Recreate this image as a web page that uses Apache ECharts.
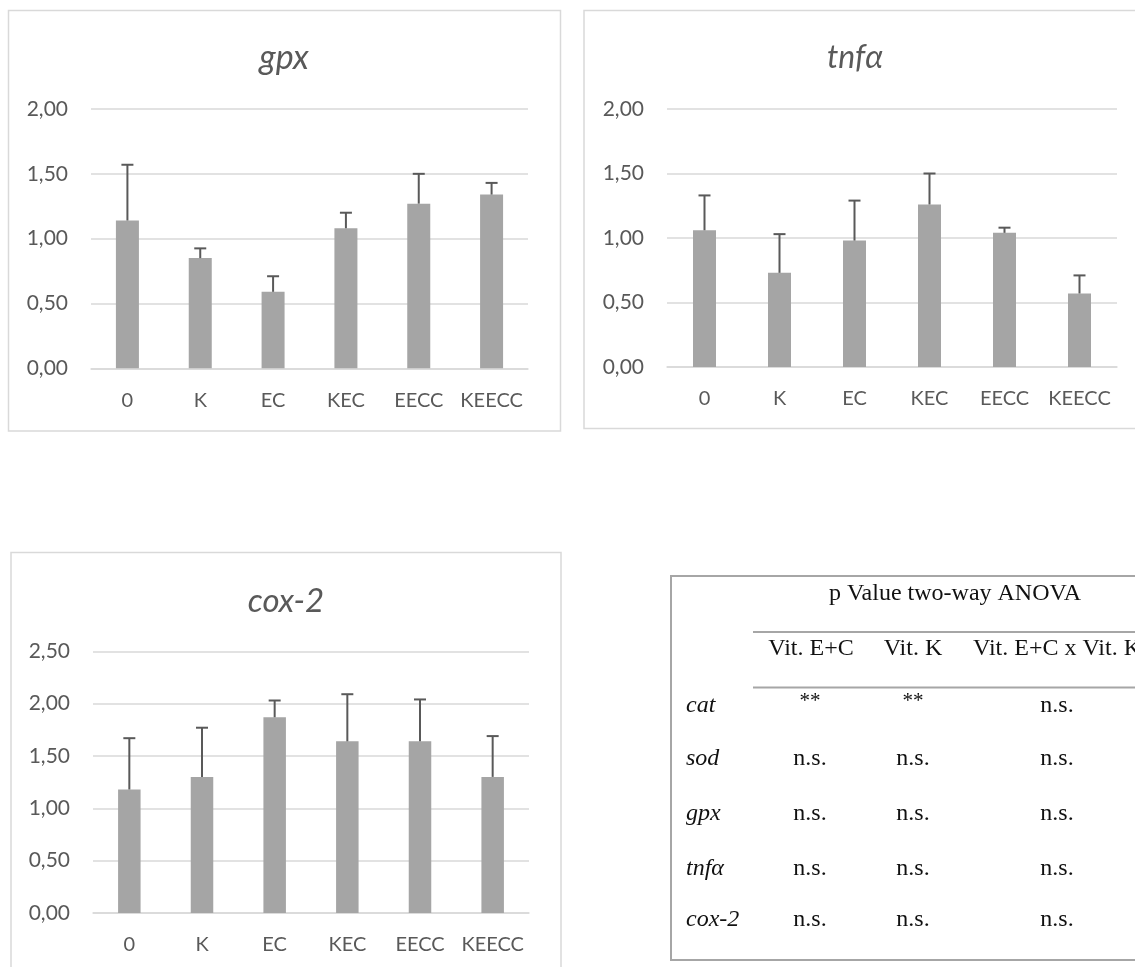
<!DOCTYPE html>
<html>
<head>
<meta charset="utf-8">
<script src="https://cdn.jsdelivr.net/npm/echarts@6/dist/echarts.min.js"></script>
<style>
html,body{margin:0;padding:0;background:#fff;}
#c{width:1135px;height:967px;}
</style>
</head>
<body>
<div id="c"></div>
<script>
// ---- data ----
const categories = ['0', 'K', 'EC', 'KEC', 'EECC', 'KEECC'];
const gpxMean = [1.14, 0.85, 0.59, 1.08, 1.27, 1.34];
const gpxErr  = [0.43, 0.075, 0.12, 0.12, 0.23, 0.09];
const tnfMean = [1.06, 0.73, 0.98, 1.26, 1.04, 0.57];
const tnfErr  = [0.27, 0.30, 0.31, 0.24, 0.04, 0.14];
const coxMean = [1.18, 1.30, 1.87, 1.64, 1.64, 1.30];
const coxErr  = [0.49, 0.47, 0.16, 0.45, 0.40, 0.39];
const chartTitles = ['gpx', 'tnfα', 'cox-2'];
const yMax = [2.0, 2.0, 2.5];
const yInterval = 0.5;

// ANOVA table
const tableTitle = 'p Value two-way ANOVA';
const tableHeaders = ['Vit. E+C', 'Vit. K', 'Vit. E+C x Vit. K'];
const tableRows = ['cat', 'sod', 'gpx', 'tnfα', 'cox-2'];
const tableColEC = ['**', 'n.s.', 'n.s.', 'n.s.', 'n.s.'];
const tableColK  = ['**', 'n.s.', 'n.s.', 'n.s.', 'n.s.'];
const tableColX  = ['n.s.', 'n.s.', 'n.s.', 'n.s.', 'n.s.'];

// ---- layout / style ----
const SANS = 'Lato, "Noto Sans", sans-serif';
const SERIF = '"Liberation Serif", "DejaVu Serif", serif';
const LABEL = '#595959';
const GRID = '#D9D9D9';

const grids = [
  {left: 91, top: 109, width: 437, height: 259.3},
  {left: 667, top: 109, width: 450, height: 258},
  {left: 93, top: 651.3, width: 436, height: 261.7}
];
const boxes = [
  {x: 8.5, y: 10.5, w: 552, h: 420.5},
  {x: 584, y: 10.5, w: 600, h: 418},
  {x: 11, y: 552.5, w: 550, h: 500}
];
const titlePos = [[284, 58], [855, 58], [286, 601]];
const titleSize = [34, 32, 33];
const barW = [23, 23, 22.5];
const means = [gpxMean, tnfMean, coxMean];
const errs = [gpxErr, tnfErr, coxErr];

const fmt = v => v.toFixed(2).replace('.', ',');

const xAxis = [], yAxis = [], series = [], graphic = [];
for (let i = 0; i < 3; i++) {
  xAxis.push({
    type: 'category', gridIndex: i, data: categories,
    axisLine: {show: true, lineStyle: {color: GRID, width: 1.5}},
    axisTick: {show: false},
    axisLabel: {color: LABEL, fontFamily: SANS, fontSize: 20, margin: 22, interval: 0}
  });
  yAxis.push({
    type: 'value', gridIndex: i, min: 0, max: yMax[i], interval: yInterval,
    axisLine: {show: false}, axisTick: {show: false},
    axisLabel: {color: LABEL, fontFamily: SANS, fontSize: 21, margin: 23, formatter: fmt},
    splitLine: {show: true, lineStyle: {color: GRID, width: 1.5}}
  });
  series.push({
    type: 'bar', xAxisIndex: i, yAxisIndex: i, data: means[i],
    barWidth: barW[i], itemStyle: {color: '#A5A5A5'}, z: 2, silent: true
  });
  const ebData = means[i].map((m, k) => [k, m, m + errs[i][k]]);
  series.push({
    type: 'custom', xAxisIndex: i, yAxisIndex: i, data: ebData, z: 3, silent: true,
    encode: {x: 0, y: [1, 2]},
    renderItem: (params, api) => {
      const b = api.coord([api.value(0), api.value(1)]);
      const t = api.coord([api.value(0), api.value(2)]);
      const st = {stroke: '#595959', lineWidth: 2};
      return {type: 'group', children: [
        {type: 'line', shape: {x1: b[0], y1: b[1], x2: t[0], y2: t[1]}, style: st},
        {type: 'line', shape: {x1: t[0] - 6, y1: t[1], x2: t[0] + 6, y2: t[1]}, style: st}
      ]};
    }
  });
  graphic.push({
    type: 'rect', shape: {x: boxes[i].x, y: boxes[i].y, width: boxes[i].w, height: boxes[i].h},
    style: {fill: null, stroke: GRID, lineWidth: 1.5}, z: 0, silent: true
  });
  graphic.push({
    type: 'text', x: titlePos[i][0], y: titlePos[i][1],
    style: {text: chartTitles[i], fill: LABEL, font: 'italic ' + titleSize[i] + 'px ' + SANS,
            textAlign: 'center', textVerticalAlign: 'middle'}
  });
}

// ---- table ----
const TB = '#A6A6A6';
const TF = '24px ' + SERIF;
graphic.push({type: 'rect', shape: {x: 671, y: 576, width: 600, height: 384},
  style: {fill: null, stroke: TB, lineWidth: 2}, silent: true});
graphic.push({type: 'text', x: 955, y: 594,
  style: {text: tableTitle, fill: '#111', font: TF, textAlign: 'center', textVerticalAlign: 'middle'}});
graphic.push({type: 'line', shape: {x1: 753, y1: 632, x2: 1140, y2: 632}, style: {stroke: TB, lineWidth: 2}});
graphic.push({type: 'line', shape: {x1: 753, y1: 687.5, x2: 1140, y2: 687.5}, style: {stroke: TB, lineWidth: 2}});
graphic.push({type: 'text', x: 811, y: 649, style: {text: tableHeaders[0], fill: '#111', font: TF, textAlign: 'center', textVerticalAlign: 'middle'}});
graphic.push({type: 'text', x: 913, y: 649, style: {text: tableHeaders[1], fill: '#111', font: TF, textAlign: 'center', textVerticalAlign: 'middle'}});
graphic.push({type: 'text', x: 973, y: 649, style: {text: tableHeaders[2], fill: '#111', font: TF, textAlign: 'left', textVerticalAlign: 'middle'}});
const rowY = [706, 759, 814, 869, 920];
for (let r = 0; r < tableRows.length; r++) {
  graphic.push({type: 'text', x: 686, y: rowY[r], style: {text: tableRows[r], fill: '#111', font: 'italic ' + TF, textAlign: 'left', textVerticalAlign: 'middle'}});
  const vals = [tableColEC[r], tableColK[r], tableColX[r]];
  const xs = [810, 913, 1057];
  for (let c = 0; c < 3; c++) {
    const star = vals[c] === '**';
    graphic.push({type: 'text', x: xs[c], y: rowY[r] + (star ? -5 : 0),
      style: {text: vals[c], fill: '#111', font: (star ? '21px ' : '24px ') + SERIF, textAlign: 'center', textVerticalAlign: 'middle'}});
  }
}

const chart = echarts.init(document.getElementById('c'), null, {renderer: 'canvas'});
chart.setOption({
  animation: false,
  backgroundColor: '#fff',
  grid: grids,
  xAxis: xAxis,
  yAxis: yAxis,
  series: series,
  graphic: graphic
});
</script>
</body>
</html>
